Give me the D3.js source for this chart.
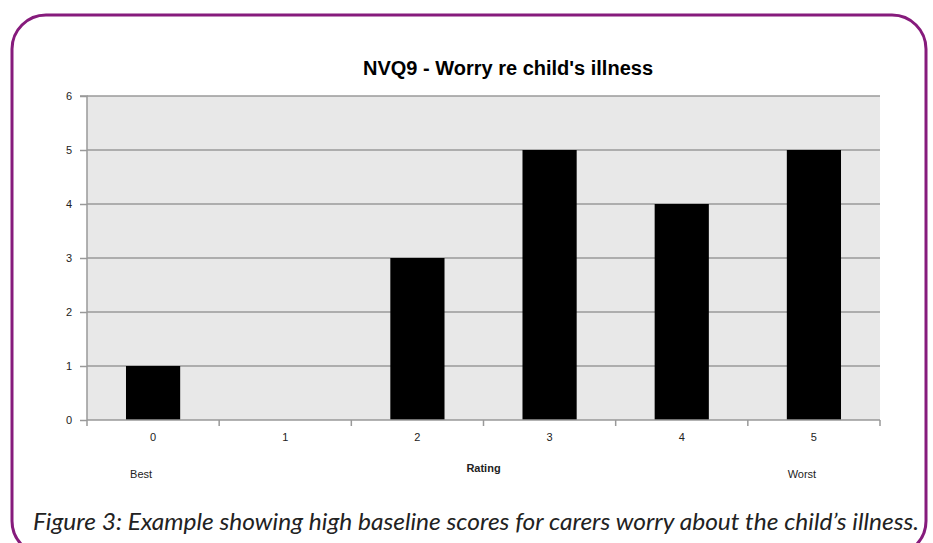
<!DOCTYPE html>
<html>
<head>
<meta charset="utf-8">
<script src="https://cdnjs.cloudflare.com/ajax/libs/d3/7.8.5/d3.min.js"></script>
<style>
  body { margin: 0; background: #fff; }
</style>
</head>
<body>
<div id="chart"></div>
<script>
var ratings = ["0", "1", "2", "3", "4", "5"];
var counts = [1, 0, 3, 5, 4, 5];
var yTicks = [0, 1, 2, 3, 4, 5, 6];
var titleText = "NVQ9 - Worry re child's illness";
var captionText = "Figure 3: Example showing high baseline scores for carers worry about the child\u2019s illness.";

var W = 933, H = 543;
var plotLeft = 87, plotRight = 880, plotTop = 96, plotBottom = 420;
var axisFont = "Liberation Sans, Arial, sans-serif";

var svg = d3.select("#chart")
    .append("svg")
    .attr("width", W)
    .attr("height", H);

// purple rounded frame (bottom corners just cut by the edge)
svg.append("rect")
    .attr("x", 12).attr("y", 15)
    .attr("width", 914).attr("height", 540)
    .attr("rx", 34).attr("ry", 34)
    .attr("fill", "none")
    .attr("stroke", "#861b7c")
    .attr("stroke-width", 3);

const xBand = d3.scaleBand()
    .domain(ratings)
    .range([plotLeft, plotRight]);

const yScale = d3.scaleLinear()
    .domain([0, 6])
    .range([plotBottom, plotTop]);

// plot background
svg.append("rect")
    .attr("x", plotLeft).attr("y", plotTop)
    .attr("width", plotRight - plotLeft).attr("height", plotBottom - plotTop)
    .attr("fill", "#e8e8e8");

// gridlines
svg.append("g")
    .selectAll("line")
    .data(yTicks.filter(d => d > 0))
    .enter()
    .append("line")
    .attr("x1", plotLeft).attr("x2", plotRight)
    .attr("y1", d => yScale(d)).attr("y2", d => yScale(d))
    .attr("stroke", "#9a9a9a")
    .attr("stroke-width", 1.5);

// bars
svg.selectAll()
    .data(counts)
    .enter()
    .append("rect")
    .attr("x", (d, i) => xBand(ratings[i]) + xBand.bandwidth() * 0.295)
    .attr("y", d => yScale(d))
    .attr("width", xBand.bandwidth() * 0.41)
    .attr("height", d => plotBottom - yScale(d))
    .attr("fill", "#000");

// y axis
var yAxis = svg.append("g")
    .attr("transform", `translate(${plotLeft},0)`)
    .call(d3.axisLeft(yScale).tickValues(yTicks).tickSize(7).tickPadding(8).tickFormat(d3.format("d")));
yAxis.selectAll("line, path").attr("stroke", "#999").attr("stroke-width", 1.5);
yAxis.select("path").attr("d", `M-7,${plotTop}H0V${plotBottom}`);
yAxis.selectAll("text")
    .attr("font-family", axisFont)
    .attr("font-size", "11px")
    .attr("fill", "#222");

// x axis: ticks on band boundaries, labels at centres
var xAxis = svg.append("g")
    .attr("transform", `translate(0,${plotBottom})`);
xAxis.append("line")
    .attr("x1", plotLeft).attr("x2", plotRight)
    .attr("stroke", "#999").attr("stroke-width", 1.5);
xAxis.selectAll(".tk")
    .data(ratings.concat(["end"]))
    .enter()
    .append("line")
    .attr("x1", (d, i) => i < ratings.length ? xBand(d) : plotRight)
    .attr("x2", (d, i) => i < ratings.length ? xBand(d) : plotRight)
    .attr("y1", 0).attr("y2", 6)
    .attr("stroke", "#999").attr("stroke-width", 1.5);
xAxis.selectAll(".lb")
    .data(ratings)
    .enter()
    .append("text")
    .attr("x", d => xBand(d) + xBand.bandwidth() / 2)
    .attr("y", 21)
    .attr("text-anchor", "middle")
    .attr("font-family", axisFont)
    .attr("font-size", "11px")
    .attr("fill", "#222")
    .text(d => d);

// axis labels
svg.append("text")
    .attr("x", xBand("0") + xBand.bandwidth() / 2 - 12).attr("y", 478)
    .attr("text-anchor", "middle")
    .attr("font-family", axisFont)
    .attr("font-size", "11px").attr("fill", "#222")
    .text("Best");
svg.append("text")
    .attr("x", xBand("5") + xBand.bandwidth() / 2 - 12).attr("y", 478)
    .attr("text-anchor", "middle")
    .attr("font-family", axisFont)
    .attr("font-size", "11px").attr("fill", "#222")
    .text("Worst");
svg.append("text")
    .attr("x", (plotLeft + plotRight) / 2).attr("y", 472)
    .attr("text-anchor", "middle")
    .attr("font-family", axisFont)
    .attr("font-size", "11px").attr("font-weight", "bold").attr("fill", "#222")
    .text("Rating");

// title
svg.append("text")
    .attr("x", 508).attr("y", 75)
    .attr("text-anchor", "middle")
    .attr("font-family", axisFont)
    .attr("font-size", "20px").attr("font-weight", "bold").attr("fill", "#000")
    .text(titleText);

// caption
svg.append("text")
    .attr("x", 33).attr("y", 530)
    .attr("font-family", "Lato, sans-serif")
    .attr("font-style", "italic")
    .attr("font-size", "23px").attr("fill", "#222")
    .attr("textLength", 886)
    .attr("lengthAdjust", "spacingAndGlyphs")
    .text(captionText);
</script>
</body>
</html>
